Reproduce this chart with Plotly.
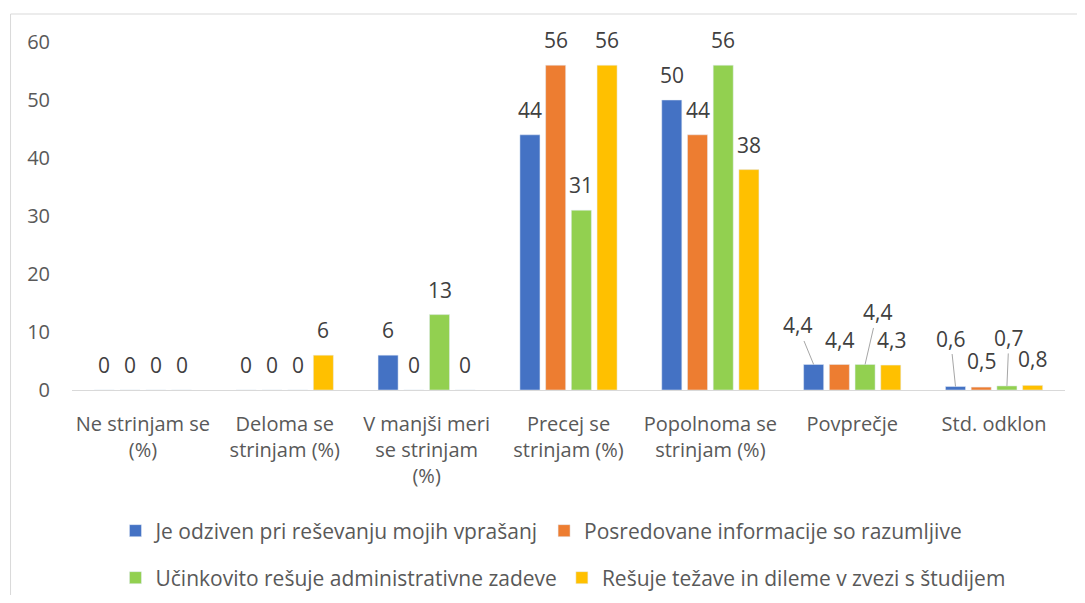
import plotly.graph_objects as go

categories = ["Ne strinjam se<br>(%)", "Deloma se<br>strinjam (%)", "V manjši meri<br>se strinjam<br>(%)",
              "Precej se<br>strinjam (%)", "Popolnoma se<br>strinjam (%)", "Povprečje", "Std. odklon"]
series_names = ["Je odziven pri reševanju mojih vprašanj", "Posredovane informacije so razumljive",
                "Učinkovito rešuje administrativne zadeve", "Rešuje težave in dileme v zvezi s študijem"]
blue_vals = [0, 0, 6, 44, 50, 4.4, 0.6]
orange_vals = [0, 0, 0, 56, 44, 4.4, 0.5]
green_vals = [0, 0, 13, 31, 56, 4.4, 0.7]
yellow_vals = [0, 6, 0, 56, 38, 4.3, 0.8]
y_ticks = [0, 10, 20, 30, 40, 50, 60]

colors = ["#4472C4", "#ED7D31", "#92D050", "#FFC000"]
all_vals = [blue_vals, orange_vals, green_vals, yellow_vals]
TXT = "#595959"
FONT = "Open Sans"

BARGAP = 0.275
BARGROUPGAP = 0.22

# leader-line label offsets in pixels (style only): (series, category) -> (ax, ay, arrow)
label_style = {
    (0, 5): (-16, -39, True), (1, 5): (0, -24, False), (2, 5): (12, -52, True), (3, 5): (1, -25, False),
    (0, 6): (-5, -48, True), (1, 6): (0, -26, False), (2, 6): (2, -48, True), (3, 6): (0, -26, False),
}

fig = go.Figure()
for i, (name, vals) in enumerate(zip(series_names, all_vals)):
    fig.add_trace(go.Bar(x=categories, y=vals, name=name, marker_color=colors[i],
                         legend="legend" if i < 2 else "legend2"))

def fmt(v):
    return ("%g" % v).replace(".", ",")

LBL_FONT = dict(size=21, color="#404040", family=FONT)
slot = (1 - BARGAP) / 4
annotations = []
for i, vals in enumerate(all_vals):
    for j, v in enumerate(vals):
        xpos = j + (i - 1.5) * slot
        st = label_style.get((i, j))
        if st and st[2]:
            annotations.append(dict(x=xpos, y=v, xref="x", yref="y", text=fmt(v), showarrow=True,
                                    ax=st[0], ay=st[1], arrowhead=0, arrowwidth=1, arrowcolor="#A6A6A6",
                                    standoff=0, font=LBL_FONT))
        else:
            dx, dy = (st[0], st[1]) if st else (0, -25)
            annotations.append(dict(x=xpos, y=v, xref="x", yref="y", text=fmt(v), showarrow=False,
                                    xshift=dx, yshift=-dy, yanchor="middle", font=LBL_FONT))

OFF = 8  # page body margin
L, R = 71.5 - OFF, 1065.5 - OFF
TOP, BOT = 42 - OFF, 390 - OFF
W, H = 1085 - 2 * OFF, 603 - 2 * OFF
pw, ph = R - L, BOT - TOP
def px(xp):
    return (xp - OFF - L) / pw
def py(yp):
    return (BOT - (yp - OFF)) / ph

fig.update_layout(
    width=W, height=H,
    margin=dict(l=L, r=W - R, t=TOP, b=H - BOT, pad=0, autoexpand=False),
    paper_bgcolor="white", plot_bgcolor="white",
    barmode="group", bargap=BARGAP, bargroupgap=BARGROUPGAP,
    font=dict(family=FONT, size=20, color=TXT),
    annotations=annotations,
    xaxis=dict(showline=True, linecolor="#D9D9D9", linewidth=1, ticks="", showgrid=False,
               tickfont=dict(size=20, color=TXT), ticklabelstandoff=16),
    yaxis=dict(range=[0, 60], tickvals=y_ticks, showgrid=False, zeroline=False, showline=False,
               ticks="", tickfont=dict(size=20, color=TXT), ticklabelstandoff=21),
    legend=dict(orientation="h", x=px(115), y=py(531), xanchor="left", yanchor="middle",
                font=dict(size=21, color=TXT), bgcolor="rgba(0,0,0,0)"),
    legend2=dict(orientation="h", x=px(115), y=py(578), xanchor="left", yanchor="middle",
                 font=dict(size=21, color=TXT), bgcolor="rgba(0,0,0,0)"),
    shapes=[dict(type="rect", xref="paper", yref="paper", x0=px(10), x1=px(1100), y0=py(620), y1=py(14),
                 line=dict(color="#D9D9D9", width=1), fillcolor="rgba(0,0,0,0)", layer="below")],
)

fig.write_html("out.html")
